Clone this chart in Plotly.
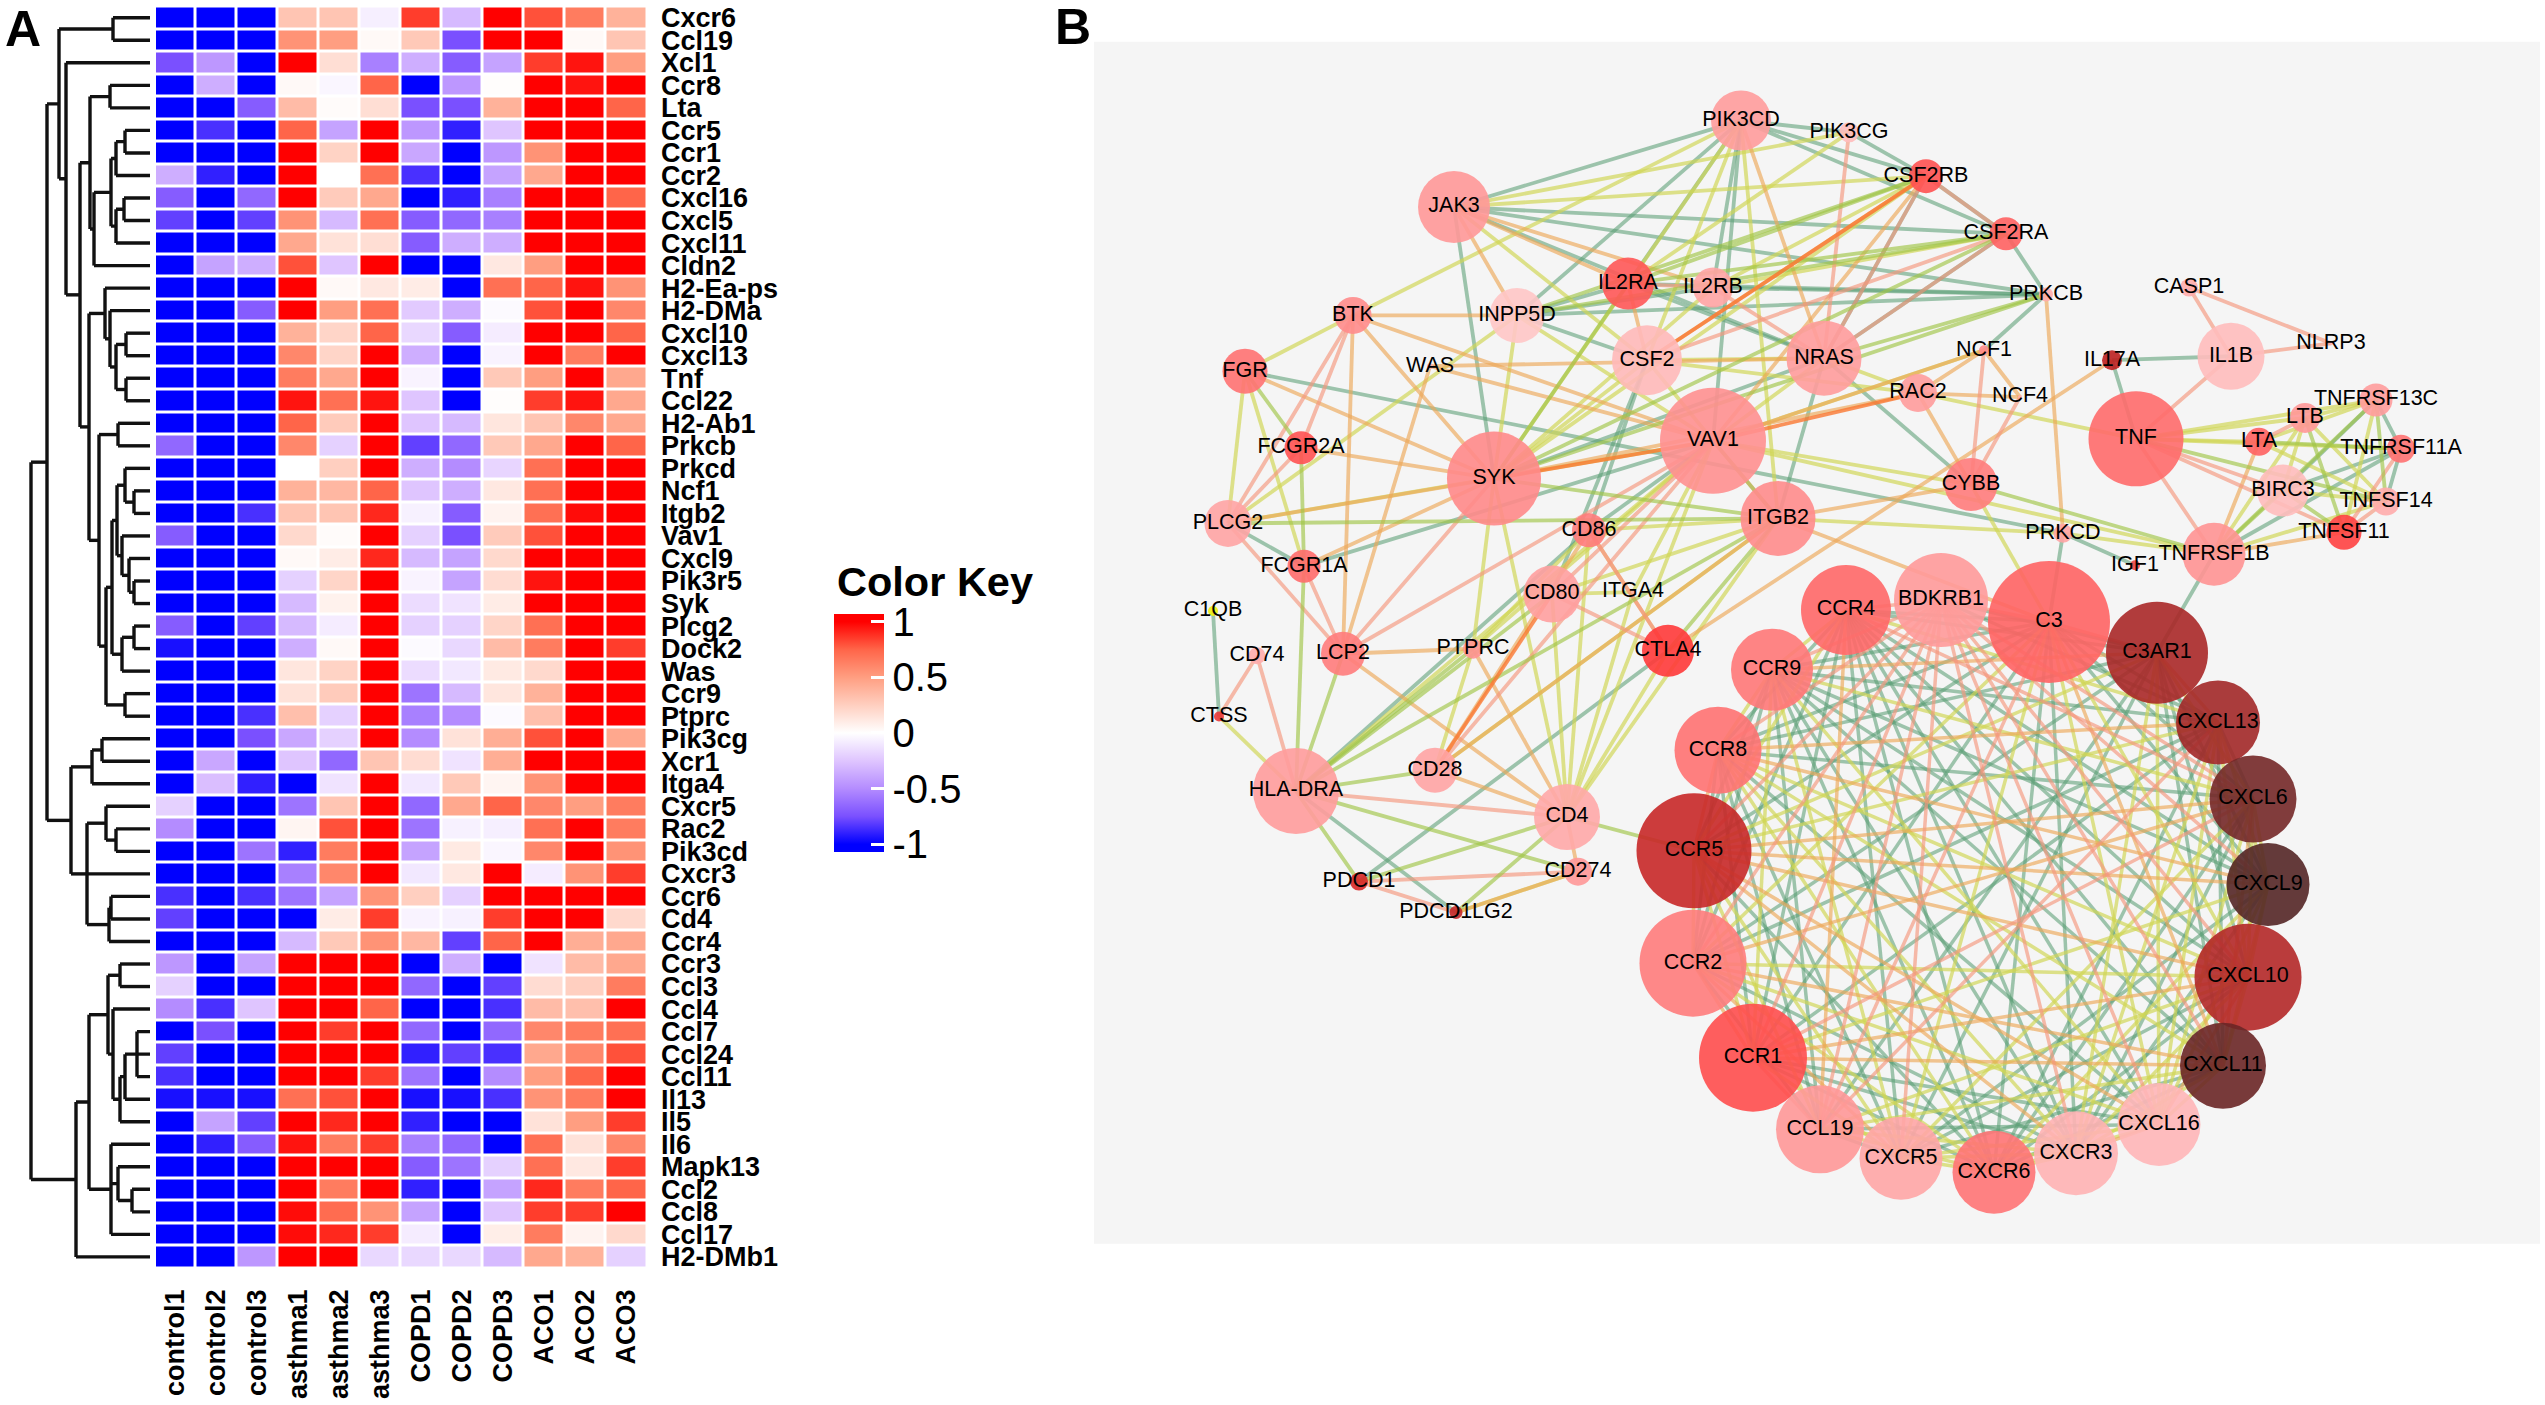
import plotly.graph_objects as go

W, H = 2545, 1405

# ---------- Panel A data ----------
samples = ["control1", "control2", "control3", "asthma1", "asthma2", "asthma3",
           "COPD1", "COPD2", "COPD3", "ACO1", "ACO2", "ACO3"]
genes = ["Cxcr6", "Ccl19", "Xcl1", "Ccr8", "Lta", "Ccr5", "Ccr1", "Ccr2", "Cxcl16", "Cxcl5", "Cxcl11", "Cldn2",
         "H2-Ea-ps", "H2-DMa", "Cxcl10", "Cxcl13", "Tnf", "Ccl22", "H2-Ab1", "Prkcb", "Prkcd", "Ncf1", "Itgb2", "Vav1",
         "Cxcl9", "Pik3r5", "Syk", "Plcg2", "Dock2", "Was", "Ccr9", "Ptprc", "Pik3cg", "Xcr1", "Itga4", "Cxcr5", "Rac2",
         "Pik3cd", "Cxcr3", "Ccr6", "Cd4", "Ccr4", "Ccr3", "Ccl3", "Ccl4", "Ccl7", "Ccl24", "Ccl11", "Il13", "Il5", "Il6",
         "Mapk13", "Ccl2", "Ccl8", "Ccl17", "H2-DMb1"]
expr = [
    [-1, -1, -1, .3, .3, -.07, .85, -.3, 1, .8, .65, .4],
    [-1, -1, -1, .55, .5, .03, .28, -.75, 1, 1, .03, .3],
    [-.75, -.45, -1, 1, .17, -.55, -.35, -.7, -.4, .85, .95, .5],
    [-1, -.35, -1, .03, -.04, .75, -1, -.45, .01, 1, .95, 1],
    [-1, -1, -.7, .35, .02, .17, -.75, -.75, .4, 1, 1, .75],
    [-1, -.85, -1, .75, -.4, 1, -.45, -.9, -.25, 1, 1, 1],
    [-1, -1, -1, 1, .23, 1, -.38, -1, -.45, .55, 1, 1],
    [-.35, -.9, -1, 1, 0, .7, -.85, -1, -.4, .45, 1, 1],
    [-.7, -1, -.65, 1, .27, .45, -1, -.9, -.55, 1, 1, .75],
    [-.8, -1, -.8, .55, -.3, .7, -.7, -.65, -.55, 1, 1, 1],
    [-1, -1, -1, .45, .15, .17, -.7, -.35, -.35, 1, 1, 1],
    [-1, -.4, -.35, .8, -.25, 1, -1, -1, .12, .5, 1, 1],
    [-1, -1, -1, 1, .03, .12, .1, -1, .7, .75, .95, .55],
    [-1, -1, -.7, 1, .5, .7, -.23, -.35, -.02, .8, 1, .6],
    [-1, -1, -1, .4, .22, .75, -.17, -.7, -.08, 1, 1, .75],
    [-1, -1, -1, .6, .22, 1, -.35, -1, -.05, 1, .65, 1],
    [-1, -1, -1, .65, .45, 1, -.05, -1, .28, .5, 1, .45],
    [-1, -1, -1, .95, .7, .95, -.25, -1, .01, .85, .95, .45],
    [-1, -1, -1, .75, .27, 1, -.25, -.3, .13, .3, .6, .45],
    [-.65, -1, -1, .6, -.2, 1, -.8, -.65, .28, .45, 1, .75],
    [-1, -1, -1, 0, .25, 1, -.35, -.5, -.18, .7, 1, 1],
    [-1, -1, -1, .4, .37, .75, -.25, -.35, .12, .7, 1, 1],
    [-1, -1, -.85, .3, .3, .9, -.06, -.7, .06, .7, .97, 1],
    [-.7, -1, -1, .2, .02, 1, -.2, -.75, .27, .8, 1, 1],
    [-1, -1, -1, .03, .1, .9, -.3, -.4, .2, 1, 1, 1],
    [-1, -1, -1, -.2, .22, 1, -.05, -.4, .18, .95, 1, 1],
    [-1, -1, -1, -.3, .07, 1, -.15, -.12, .1, 1, 1, 1],
    [-.7, -1, -.8, -.3, -.08, 1, -.2, -.2, .22, .7, 1, 1],
    [-.95, -1, -1, -.35, .03, 1, -.02, -.17, .35, .65, 1, .85],
    [-1, -1, -1, .13, .23, 1, -.15, -.1, .11, .2, 1, 1],
    [-1, -1, -1, .15, .27, 1, -.6, -.3, .13, .4, 1, 1],
    [-1, -1, -.85, .33, -.2, 1, -.55, -.5, -.02, .33, 1, 1],
    [-1, -1, -.75, -.38, -.2, 1, -.5, .15, .42, .8, 1, .45],
    [-1, -.38, -1, -.25, -.65, .3, .18, -.12, .42, 1, 1, 1],
    [-1, -.28, -.9, -1, -.12, 1, -.1, .28, .05, .55, 1, 1],
    [-.2, -1, -1, -.6, .3, 1, -.65, .45, .75, .6, .5, .65],
    [-.5, -1, -1, .05, .8, 1, -.6, -.06, -.07, .7, 1, .65],
    [-1, -1, -.6, -.9, .65, 1, -.4, .11, -.04, .6, 1, .55],
    [-1, -1, -1, -.55, .6, 1, -.1, .12, 1, -.08, .55, .85],
    [-.85, -1, -.85, -.6, -.4, .55, .25, -.2, 1, 1, 1, 1],
    [-.8, -1, -1, -1, .1, .85, -.05, -.06, .85, 1, 1, .2],
    [-1, -1, -1, -.3, .28, .55, .37, -.8, .75, 1, .42, .45],
    [-.45, -1, -.4, 1, 1, 1, -1, -.35, -1, -.12, .35, .45],
    [-.2, -1, -1, 1, 1, 1, -.65, -1, -.8, .18, .25, .65],
    [-.5, -.85, -.25, 1, 1, .75, -1, -1, -.85, .35, .33, 1],
    [-1, -.75, -1, 1, .85, 1, -.65, -1, -.65, .6, .65, .7],
    [-.8, -1, -1, 1, 1, 1, -.9, -.8, -.85, .45, .6, .8],
    [-.85, -1, -1, 1, 1, .85, -.6, -1, -.5, .5, .75, 1],
    [-.95, -.95, -.95, .7, .8, 1, -.95, -.95, -.85, .55, .65, 1],
    [-1, -.4, -.8, 1, .9, 1, -.9, -1, -1, .15, .5, .85],
    [-1, -.9, -.7, .95, .65, .85, -.55, -.65, -1, .7, .15, .6],
    [-1, -1, -1, 1, 1, 1, -.7, -.6, -.2, .7, .12, .85],
    [-1, -1, -1, 1, .65, 1, -.9, -1, -.4, .9, .65, .75],
    [-1, -1, -1, .97, .72, .55, -.4, -1, -.25, .85, .85, 1],
    [-1, -1, -1, .97, .9, .85, -.08, -1, .09, .65, .06, .2],
    [-1, -1, -.45, 1, 1, -.17, -.17, -.17, -.3, .45, .4, -.2],
]
# Dendrogram: [merge height, child, child, ...]
tree = [31,
        [47,
         [59, [113, "Cxcr6", "Ccl19"],
          [66, "Xcl1",
           [80,
            [90, [110, "Ccr8", "Lta"],
             [94, [111, [116, [125, "Ccr5", "Ccr1"], "Ccr2"], [116, [124, "Cxcl16", "Cxcl5"], "Cxcl11"]], "Cldn2"]],
            [89, [105, "H2-Ea-ps", [110, "H2-DMa", [116, [126, "Cxcl10", "Cxcl13"], [126, "Tnf", "Ccl22"]]]],
             [99, [118, "H2-Ab1", "Prkcb"],
              [106, [112, [117, [125, "Prkcd", [134, "Ncf1", "Itgb2"]],
                           [122, "Vav1", [129, "Cxcl9", [134, "Pik3r5", "Syk"]]]],
                     [122, [134, "Plcg2", "Dock2"], "Was"]],
               [125, "Ccr9", "Ptprc"]]]]]]],
         [71, [92, [102, "Pik3cg", "Xcr1"], "Itga4"],
          [87, [106, "Cxcr5", [116, "Rac2", "Pik3cd"]], "Cxcr3", [109, [111, "Ccr6", "Cd4"], "Ccr4"]]]],
        [76, [89, [108, [120, "Ccr3", "Ccl3"],
                   [113, "Ccl4", [120, [125, [137, "Ccl7", "Ccl24", "Ccl11"], "Il13"], "Il5"]]],
              [111, "Il6", [118, "Mapk13", [132, "Ccl2", "Ccl8"]], "Ccl17"]],
         "H2-DMb1"]]
leaf_height = 150

# ---------- Panel B data ----------
node_name = ["C3", "C3AR1", "CXCL13", "CXCL6", "CXCL9", "CXCL10", "CXCL11", "CXCL16", "CXCR3", "CXCR6", "CXCR5",
             "CCL19", "CCR1", "CCR2", "CCR5", "CCR8", "CCR9", "CCR4", "BDKRB1", "CTLA4",
             "PIK3CD", "JAK3", "IL2RA", "IL2RB", "INPP5D", "BTK", "FGR", "CSF2", "NRAS", "WAS", "VAV1", "SYK",
             "FCGR2A", "PLCG2", "ITGB2", "CD86", "FCGR1A", "CD80", "ITGA4", "C1QB", "CD74", "LCP2", "PTPRC", "CTSS",
             "HLA-DRA", "CD28", "CD4", "CD274", "PDCD1", "PDCD1LG2",
             "PIK3CG", "CSF2RB", "CSF2RA", "PRKCB", "CASP1", "IL1B", "NLRP3", "NCF1", "IL17A", "NCF4", "RAC2", "TNF",
             "TNFRSF13C", "LTB", "LTA", "TNFRSF11A", "BIRC3", "CYBB", "TNFSF14", "TNFSF11", "TNFRSF1B", "PRKCD", "IGF1"]
node_x = [2049, 2157, 2218, 2253, 2268, 2248, 2223, 2159, 2076, 1994, 1901, 1820, 1753, 1693, 1694, 1718, 1772, 1846, 1941, 1668,
          1741, 1454, 1628, 1713, 1517, 1353, 1245, 1647, 1824, 1430, 1713, 1494, 1301, 1228, 1778, 1589, 1304, 1552, 1633, 1213, 1257, 1343, 1473, 1219,
          1296, 1435, 1567, 1578, 1359, 1456,
          1849, 1926, 2006, 2046, 2189, 2231, 2331, 1984, 2112, 2020, 1918, 2136,
          2376, 2305, 2259, 2401, 2283, 1971, 2386, 2344, 2214, 2063, 2135]
node_y = [622, 653, 723, 800, 886, 979, 1068, 1127, 1156, 1175, 1161, 1132, 1060, 965, 852, 751, 670, 610, 600, 651,
          118, 205, 282, 286, 314, 314, 370, 359, 357, 365, 440, 478, 447, 523, 518, 530, 566, 594, 592, 611, 656, 654, 649, 717,
          792, 771, 818, 873, 883, 914,
          130, 174, 232, 293, 286, 355, 342, 349, 359, 396, 392, 438,
          399, 417, 441, 448, 490, 484, 501, 532, 554, 533, 565]
node_size = [122, 102, 84, 87, 83, 107, 86, 83, 84, 83, 83, 88, 108, 107, 115, 87, 82, 90, 94, 52,
             60, 72, 52, 40, 55, 37, 45, 70, 75, 6, 106, 94, 33, 47, 75, 34, 33, 57, 4, 10, 17, 44, 20, 10,
             86, 45, 66, 28, 18, 13,
             20, 34, 33, 14, 18, 67, 4, 10, 20, 4, 38, 95,
             33, 30, 28, 28, 52, 53, 28, 35, 63, 19, 10]
node_color = ["#ff6464", "#aa2828", "#a22828", "#742828", "#542626", "#b42828", "#6a2626", "#ffb6b8", "#ffb2b4", "#ff7476", "#ffa6a6",
              "#ff9898", "#ff4e4e", "#ff7c7c", "#c82828", "#ff7272", "#ff7878", "#ff6868", "#ff9a9a", "#ff3a3a",
              "#ff9c9c", "#ff9898", "#ff5858", "#ffa4a4", "#ffc6c6", "#ff8c8c", "#ff7272", "#ffb9b9", "#ff9c9c", "#ffb0b0", "#ff9090", "#ff8a8a",
              "#ff5252", "#ffa4a4", "#ff8c8c", "#ff7c7c", "#ff6c6c", "#ffa0a0", "#ffb0b0", "#f0f010", "#ffacac", "#ff7c7c", "#ff9494", "#e83838",
              "#ff9c9c", "#ffa4a4", "#ffa8a8", "#ff9898", "#d82828", "#c42828",
              "#ffbcbc", "#ff5252", "#ff6262", "#ffacac", "#ffacac", "#ffbcbc", "#ffb0b0", "#ff8c8c", "#bc2020", "#ffb0b0", "#ff9c9c", "#ff6c6c",
              "#ff9c9c", "#ff9898", "#ff6262", "#ff7272", "#ffbcbc", "#ff7c7c", "#ffacac", "#ff4242", "#ff9494", "#ffa4a4", "#f04848"]

# Ring members, in order, and one code per pair (g, y, o, s; '-' = no edge)
ring = ["C3", "C3AR1", "CXCL13", "CXCL6", "CXCL9", "CXCL10", "CXCL11", "CXCL16", "CXCR3", "CXCR6", "CXCR5",
        "CCL19", "CCR1", "CCR2", "CCR5", "CCR8", "CCR9", "CCR4", "BDKRB1"]
ring_codes = ["sgggyoyggysgyggggs", "oygggyy-gg-gygogg", "gyygyyg-sggyogyg", "yyoyggy-soogyss", "yyygyg-y-ooggs",
              "yoyggyoyoyggs", "yyggyoo-yggs", "oyyggyogygs", "yyyggoyggs", "yygygygg-", "gyoygygs",
              "sgyggos", "oygygs", "ygggs", "ogys", "ygs", "ys", "s"]

edges_green = ("PIK3CD|JAK3 PIK3CD|IL2RA PIK3CD|IL2RB PIK3CD|VAV1 PIK3CD|CSF2RB PIK3CD|CSF2RA PIK3CD|PIK3CG PIK3CD|INPP5D "
               "JAK3|NRAS JAK3|SYK JAK3|CSF2RA JAK3|PRKCB IL2RA|INPP5D IL2RA|NRAS IL2RA|PRKCB IL2RB|INPP5D IL2RB|PRKCB "
               "INPP5D|CSF2 INPP5D|PRKCB FGR|PRKCD CSF2|CD86 CSF2|CD80 SYK|NRAS VAV1|CD86 NRAS|ITGB2 NRAS|CYBB NRAS|CSF2RB "
               "NRAS|CSF2RA TNF|IL17A IL17A|IL1B PRKCB|NCF1 PRKCB|CSF2RA PRKCD|C3 PRKCD|IGF1 TNFRSF1B|C3AR1 TNFRSF1B|TNFRSF11A "
               "BIRC3|TNFRSF13C BIRC3|TNFRSF11A TNFRSF13C|TNFRSF11A TNFRSF11A|TNFSF14 C1QB|CTSS FCGR1A|PLCG2 FCGR1A|VAV1 "
               "HLA-DRA|CD86 HLA-DRA|PDCD1LG2 PDCD1|CTLA4 CSF2RB|PIK3CG CSF2RB|CSF2RA")
edges_olive = ("IL2RA|SYK IL2RA|CSF2RB IL2RA|CSF2RA INPP5D|CSF2RA INPP5D|CSF2RB SYK|ITGB2 SYK|CSF2RA SYK|PRKCB VAV1|ITGB2 "
               "NRAS|PRKCB ITGB2|PLCG2 ITGB2|HLA-DRA TNFRSF1B|BIRC3 TNFRSF1B|TNFRSF13C BIRC3|TNFSF11 LTA|TNFRSF11A LTB|TNFSF11 "
               "TNFRSF13C|TNFSF14 TNF|TNFSF14 CYBB|TNFRSF1B FGR|FCGR2A FCGR1A|FCGR2A FCGR1A|HLA-DRA LCP2|HLA-DRA HLA-DRA|PTPRC "
               "HLA-DRA|CD80 HLA-DRA|CD28 HLA-DRA|CD274 HLA-DRA|PDCD1 CD4|PDCD1 CD4|PDCD1LG2 CD4|CCR5 CTLA4|ITGB2")
edges_yellow = ("PIK3CD|CSF2 PIK3CD|SYK PIK3CD|BTK PIK3CD|ITGB2 JAK3|CSF2 JAK3|CSF2RB JAK3|PIK3CG IL2RA|PIK3CG IL2RB|CSF2RB IL2RB|CSF2RA "
                "IL2RB|SYK INPP5D|PLCG2 INPP5D|SYK INPP5D|VAV1 BTK|FGR FGR|PLCG2 FGR|FCGR1A CSF2|SYK CSF2|NRAS CSF2|VAV1 CSF2|RAC2 "
                "SYK|PTPRC SYK|CD4 SYK|CSF2RB VAV1|PLCG2 VAV1|NRAS VAV1|CYBB VAV1|CD4 VAV1|NCF1 VAV1|HLA-DRA VAV1|TNFRSF1B NRAS|RAC2 "
                "ITGB2|CD86 ITGB2|CD80 ITGB2|CD4 ITGB2|PRKCD TNF|RAC2 TNF|LTB TNF|LTA TNF|TNFRSF13C TNF|TNFRSF11A PRKCD|TNFRSF1B CYBB|C3 "
                "TNFRSF1B|LTB TNFRSF1B|TNFSF14 BIRC3|LTB BIRC3|TNFSF14 LTA|TNFRSF13C LTA|TNFSF14 LTB|TNFRSF13C LTB|TNFSF14 TNFRSF13C|TNFSF11 "
                "CTSS|HLA-DRA CD28|ITGB2 CD28|PTPRC CD4|CD80 CD4|CD86 CD4|ITGA4 CD4|CTLA4 CD274|PDCD1LG2 CD80|ITGA4 ITGA4|VAV1 PTPRC|VAV1 PTPRC|CD86")
edges_orange = ("PIK3CD|NRAS JAK3|IL2RA JAK3|IL2RB JAK3|INPP5D IL2RA|CSF2 BTK|INPP5D BTK|SYK BTK|VAV1 BTK|LCP2 FGR|SYK WAS|VAV1 WAS|NRAS "
                "WAS|LCP2 CSF2|CSF2RB SYK|FCGR2A SYK|PLCG2 SYK|FCGR1A VAV1|NCF1 VAV1|CSF2RB ITGB2|CD28 ITGB2|CYBB ITGB2|C3 CYBB|RAC2 RAC2|NCF1 "
                "RAC2|NCF4 NCF1|NCF4 RAC2|SYK PRKCB|PRKCD TNFRSF1B|LTA TNFRSF1B|TNFSF11 LCP2|PTPRC LCP2|CD4 CD28|CD86 CD28|CD4 CD4|PTPRC CD4|CD274 "
                "CD86|CTLA4 IL17A|CTLA4 CD274|PDCD1LG2")
edges_salmon = ("IL2RA|IL2RB IL2RB|NRAS CSF2|CSF2RA NRAS|CSF2RB NRAS|CSF2RA NRAS|PIK3CG BTK|FCGR2A PLCG2|FCGR2A PLCG2|BTK PLCG2|LCP2 "
                "SYK|LCP2 VAV1|LCP2 VAV1|CD28 VAV1|CD80 CYBB|NCF1 CYBB|NCF4 TNF|IL1B TNF|TNFSF11 TNF|BIRC3 TNF|TNFRSF1B CASP1|IL1B CASP1|NLRP3 "
                "IL1B|NLRP3 LTA|LTB TNFRSF11A|TNFSF11 TNFSF14|TNFSF11 CD74|CTSS CD74|HLA-DRA FCGR1A|LCP2 HLA-DRA|CD4 PDCD1|CD274 PDCD1|PDCD1LG2 "
                "CD80|CTLA4 CSF2RB|CSF2RA CD86|CTLA4 ITGB2|VAV1")
edges_strong = "SYK|VAV1 CD28|CD80 VAV1|RAC2 CSF2|CSF2RB"

# ---------- Build figure ----------
fig = go.Figure()


def px_x(v):
    return v / W


def px_y(v):
    return 1 - v / H


# Blue-white-red ramp (perceptual mix, hence violet and coral mid-tones), saturating at +/-1
zlim = 1.07
ramp = [(-1, "#0000ff"), (-.75, "#7a50ff"), (-.5, "#b48cff"), (-.25, "#dfc5ff"), (0, "#ffffff"),
        (.25, "#ffcfc0"), (.5, "#ff9e81"), (.75, "#ff6549"), (1, "#ff0000")]
cscale = [[0, "#0000ff"]] + [[(v + zlim) / (2 * zlim), c] for v, c in ramp] + [[1, "#ff0000"]]
fig.add_trace(go.Heatmap(
    z=expr, x=list(range(len(samples))), y=list(range(len(genes))),
    zmin=-zlim, zmax=zlim, colorscale=cscale, xgap=3, ygap=3,
    xaxis="x", yaxis="y", hoverinfo="skip",
    colorbar=dict(
        x=833.5 / W, xanchor="left", xpad=0, y=px_y(614), yanchor="top", ypad=0,
        lenmode="fraction", len=239 / H, thicknessmode="pixels", thickness=50,
        outlinewidth=0, borderwidth=0,
        tickmode="array", tickvals=[-1, -.5, 0, .5, 1], ticktext=["-1", "-0.5", "0", "0.5", "1"],
        ticks="inside", ticklen=13, tickwidth=2.5, tickcolor="#ffffff",
        tickfont=dict(family="Liberation Sans", size=40, color="#000000"),
    ),
))


# Dendrogram
def leaf_index(name):
    return genes.index(name)


den_x, den_y = [], []


def walk(node):
    if isinstance(node, str):
        return leaf_height, leaf_index(node)
    h = node[0]
    ys = []
    for child in node[1:]:
        ch, cy = walk(child)
        den_x.extend([h, ch, None])
        den_y.extend([cy, cy, None])
        ys.append(cy)
    den_x.extend([h, h, None])
    den_y.extend([ys[0], ys[-1], None])
    return h, (ys[0] + ys[-1]) / 2


walk(tree)
fig.add_trace(go.Scatter(x=den_x, y=den_y, mode="lines", xaxis="x3", yaxis="y",
                         line=dict(color="#111111", width=3.4), hoverinfo="skip", showlegend=False))

# Network edges
palette = {"g": "rgba(92,158,118,0.58)", "l": "rgba(160,196,70,0.65)", "y": "rgba(208,214,84,0.68)",
           "o": "rgba(236,168,88,0.65)", "s": "rgba(244,150,124,0.65)", "r": "rgba(250,120,50,0.8)"}
pos = {n: (x, y) for n, x, y in zip(node_name, node_x, node_y)}


def edge_trace(pairs, key, width):
    ex, ey = [], []
    for a, b in pairs:
        ex.extend([pos[a][0], pos[b][0], None])
        ey.extend([pos[a][1], pos[b][1], None])
    return go.Scatter(x=ex, y=ey, mode="lines", xaxis="x2", yaxis="y2", hoverinfo="skip", showlegend=False,
                      line=dict(color=palette[key], width=width))


def split(text):
    return [tuple(p.split("|")) for p in text.split()]


ring_pairs = {"g": [], "y": [], "o": [], "s": []}
for i, row in enumerate(ring_codes):
    for other, code in zip(ring[i + 1:], row):
        if code in ring_pairs:
            ring_pairs[code].append((ring[i], other))

for key in ["g", "y", "o", "s"]:
    fig.add_trace(edge_trace(ring_pairs[key], key, 3.5))
for key, text in [("g", edges_green), ("y", edges_yellow), ("o", edges_orange), ("s", edges_salmon),
                  ("l", edges_olive), ("r", edges_strong)]:
    fig.add_trace(edge_trace(split(text), key, 3.8))

# Network nodes
fig.add_trace(go.Scatter(
    x=node_x, y=node_y, mode="markers+text", text=node_name, textposition="middle center",
    textfont=dict(family="Liberation Sans", size=21.5, color="#000000"),
    marker=dict(size=node_size, color=node_color, opacity=0.9, line=dict(width=0), sizemode="diameter"),
    xaxis="x2", yaxis="y2", hoverinfo="text", showlegend=False, cliponaxis=False,
))

# Layout
shapes = [dict(type="rect", xref="x2 domain", yref="y2 domain", x0=0, x1=1, y0=0, y1=1,
               fillcolor="#f5f5f5", line=dict(width=0), layer="below")]
# left-hand white dashes of the colour key
for v in [-1, -.5, .5, 1]:
    yy = 732 - v * 112
    shapes.append(dict(type="line", xref="paper", yref="paper", x0=px_x(833.5), x1=px_x(846),
                       y0=px_y(yy), y1=px_y(yy), line=dict(color="#ffffff", width=2.5), layer="above"))

annotations = [
    dict(text="<b>A</b>", xref="paper", yref="paper", x=px_x(3), y=px_y(-4), xanchor="left", yanchor="top",
         showarrow=False, font=dict(family="Liberation Sans", size=50, color="#000000")),
    dict(text="<b>B</b>", xref="paper", yref="paper", x=px_x(1053), y=px_y(-6), xanchor="left", yanchor="top",
         showarrow=False, font=dict(family="Liberation Sans", size=50, color="#000000")),
    dict(text="<b>Color Key</b>", xref="paper", yref="paper", x=px_x(835), y=px_y(607), xanchor="left", yanchor="bottom",
         showarrow=False, font=dict(family="Liberation Sans", size=41.5, color="#000000")),
]

fig.update_layout(
    width=W, height=H, autosize=False, margin=dict(l=0, r=0, t=0, b=0),
    paper_bgcolor="#ffffff", plot_bgcolor="#ffffff", showlegend=False,
    shapes=shapes, annotations=annotations,
    xaxis=dict(domain=[px_x(154.5), px_x(647)], anchor="y", range=[-0.5, 11.5],
               tickmode="array", tickvals=list(range(len(samples))), ticktext=samples, tickangle=-90,
               ticks="", showgrid=False, zeroline=False, showline=False, ticklabelstandoff=15,
               ticklabeloverflow="allow",
               tickfont=dict(family="Liberation Sans", size=27, color="#000000", weight="bold")),
    yaxis=dict(domain=[px_y(1271.5), px_y(3.5)], anchor="x", side="right", range=[55.5, -0.5],
               tickmode="array", tickvals=list(range(len(genes))), ticktext=genes,
               ticks="", showgrid=False, zeroline=False, showline=False, ticklabelstandoff=13,
               ticklabeloverflow="allow",
               tickfont=dict(family="Liberation Sans", size=27, color="#000000", weight="bold")),
    xaxis3=dict(domain=[0, px_x(156)], anchor="y", range=[0, 156], visible=False, fixedrange=True),
    xaxis2=dict(domain=[px_x(1094), px_x(2540)], anchor="y2", range=[1094, 2540], visible=False),
    yaxis2=dict(domain=[px_y(1247), px_y(39)], anchor="x2", range=[1247, 39], visible=False),
)

fig.write_html("out.html", config={"displayModeBar": False}, post_script="document.body.style.margin='0';")
